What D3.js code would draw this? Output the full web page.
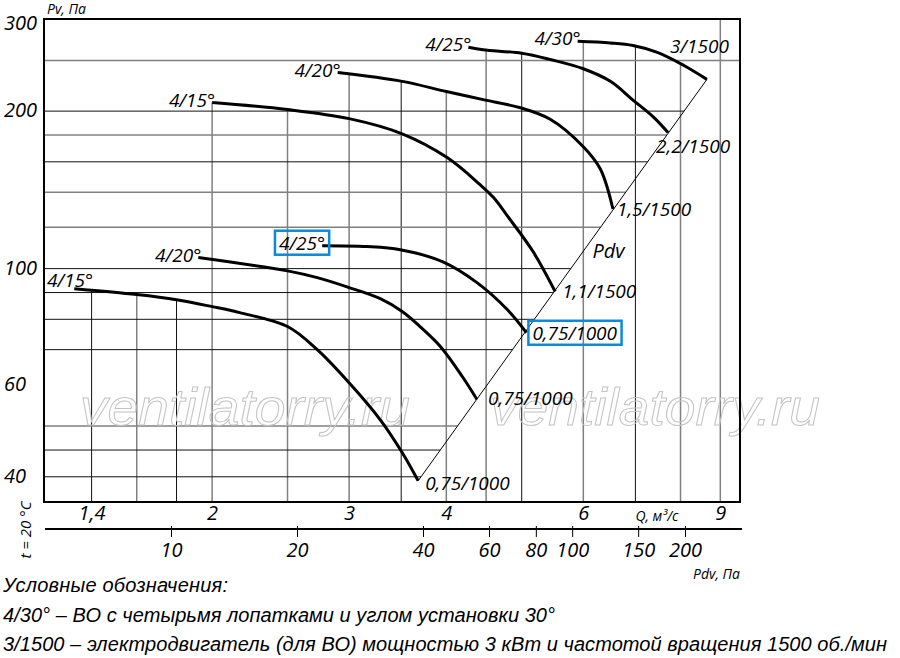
<!DOCTYPE html>
<html>
<head>
<meta charset="utf-8">
<script src="https://cdn.jsdelivr.net/npm/d3@7"></script>
<style>
  body { margin: 0; background: #fff; }
  svg text { font-family: "Open Sans", sans-serif; font-style: italic; fill: #000; }
  .legend text { font-family: "Liberation Sans", Arial, sans-serif; }
</style>
</head>
<body>
<svg id="chart" width="900" height="658"></svg>
<script>
// fan curves: lower group 1000 rpm, upper group 1500 rpm
var curveLabels = ["4/15°", "4/20°", "4/25°", "4/15°", "4/20°", "4/25°", "4/30°"];
var motorLabels = ["0,75/1000", "0,75/1000", "0,75/1000", "1,1/1500", "1,5/1500", "2,2/1500", "3/1500"];

// Q, m3/s
var curveFlow = [
  [1.33, 1.6, 1.8, 2.0, 2.17, 2.5, 2.73, 3.0, 3.29, 3.51, 3.68],
  [1.92, 2.5, 2.73, 3.0, 3.29, 3.51, 3.7, 3.93, 4.2, 4.38],
  [2.77, 3.16, 3.49, 3.96, 4.38, 4.79, 5.07],
  [2.0, 2.5, 3.0, 3.51, 4.01, 4.42, 4.6, 4.8, 5.17, 5.52],
  [2.9, 3.51, 4.0, 4.46, 4.98, 5.44, 6.0, 6.31, 6.55],
  [4.27, 4.46, 5.0, 5.44, 6.0, 6.5, 6.95, 7.38, 7.71],
  [5.9, 6.5, 6.95, 7.47, 8.06, 8.65]
];
// Pv, Pa
var curvePressure = [
  [91.5, 89.2, 87.2, 84.6, 82.4, 77.5, 70, 60.5, 51.4, 44.5, 39.3],
  [105, 99, 96.1, 92.0, 87.6, 82.8, 77.5, 71, 62, 56.2],
  [110.6, 110.2, 108.7, 103, 94, 83.5, 75.4],
  [207.7, 201.4, 193.5, 181, 163, 144.7, 136.7, 125.7, 107.8, 90.4],
  [237, 228, 218, 210.4, 203, 193, 171, 155, 130],
  [265, 262, 258, 251, 241, 228, 210, 195, 182],
  [272, 270, 267, 259, 245, 230]
];

var pressureTicks = [40, 60, 100, 200, 300];
var flowTicks = [1.4, 2, 3, 4, 6, 9];
var pdvTicks = [10, 20, 40, 60, 80, 100, 150, 200];
var flowGrid = [1.4, 1.6, 1.8, 2, 2.5, 3, 3.5, 4, 4.5, 5, 6, 7, 8, 9];
var pressureGrid = [40, 45, 50, 70, 80, 90, 100, 120, 140, 160, 180, 200, 250];

var legendLines = [
  "Условные обозначения:",
  "4/30° – ВО с четырьмя лопатками и углом установки 30°",
  "3/1500 – электродвигатель (для ВО) мощностью 3 кВт и частотой вращения 1500 об./мин"
];

// layout
var L = 44, T = 19, R = 740, B = 502;
var svg = d3.select("#chart");

var x = d3.scaleLog().domain([1.216, 9.54]).range([L, R]);
var y = d3.scaleLog().domain([35.8, 300]).range([B, T]);
var pdvScale = d3.scaleLog().domain([10, 20, 40, 200]).range([171, 297, 423, 685]);
var comma = function(v) { return String(v).replace(".", ","); };

var curves = curveLabels.map(function(name, i) {
  return {
    name: name,
    motor: motorLabels[i],
    pts: curveFlow[i].map(function(q, j) { return [q, curvePressure[i][j]]; })
  };
});

// top envelope of all curves at a given Q (log-log interpolation)
function envelope(q) {
  var best = null;
  curves.forEach(function(c) {
    var p = c.pts;
    if (q < p[0][0] || q > p[p.length - 1][0]) return;
    for (var j = 1; j < p.length; j++) {
      if (q <= p[j][0]) {
        var t = (Math.log(q) - Math.log(p[j-1][0])) / (Math.log(p[j][0]) - Math.log(p[j-1][0]));
        var v = Math.exp(Math.log(p[j-1][1]) + t * (Math.log(p[j][1]) - Math.log(p[j-1][1])));
        if (best === null || v > best) best = v;
        break;
      }
    }
  });
  return best;
}

// Pdv line joins the ends of the first and last curve
var endA = curves[0].pts[curves[0].pts.length - 1];
var endB = curves[6].pts[curves[6].pts.length - 1];
var ax = x(endA[0]), ay = y(endA[1]), bx = x(endB[0]), by = y(endB[1]);
function pdvLineX(py) { return ax + (py - ay) / (by - ay) * (bx - ax); }

// grid
var darkQ = [1.4, 1.8, 3.5, 5, 7];
var darkP = [200, 160, 100, 90, 80, 70, 45, 40];
var grid = svg.append("g");
grid.selectAll("line.v").data(flowGrid).enter().append("line")
  .attr("class", "v")
  .attr("x1", function(d) { return x(d); })
  .attr("x2", function(d) { return x(d); })
  .attr("y1", function(d) { var e = envelope(d); return e === null ? T : y(e); })
  .attr("y2", B)
  .attr("stroke", function(d) { return darkQ.indexOf(d) >= 0 ? "#111" : "#808080"; })
  .attr("stroke-width", function(d) { return darkQ.indexOf(d) >= 0 ? 1 : 1.5; });

grid.selectAll("line.h").data(pressureGrid).enter().append("line")
  .attr("class", "h")
  .attr("x1", L)
  .attr("x2", function(d) { var py = y(d); return py < by ? R : pdvLineX(py); })
  .attr("y1", function(d) { return y(d); })
  .attr("y2", function(d) { return y(d); })
  .attr("stroke", function(d) { return darkP.indexOf(d) >= 0 ? "#111" : "#808080"; })
  .attr("stroke-width", function(d) { return darkP.indexOf(d) >= 0 ? 1 : 1.5; });

// watermark
svg.selectAll("text.wm").data([80, 490]).enter().append("text")
  .attr("class", "wm")
  .attr("x", function(d) { return d; })
  .attr("y", 425)
  .attr("textLength", 330)
  .attr("lengthAdjust", "spacingAndGlyphs")
  .style("font-family", "'Liberation Sans', Arial, sans-serif")
  .style("font-size", "52px")
  .style("fill", "none")
  .style("stroke", "#c4c4c4")
  .style("stroke-width", 1)
  .text("ventilatorry.ru");

// frame
svg.append("rect")
  .attr("x", L).attr("y", T).attr("width", R - L).attr("height", B - T)
  .attr("fill", "none").attr("stroke", "#000").attr("stroke-width", 2);

// Pdv line
svg.append("line")
  .attr("x1", ax).attr("y1", ay).attr("x2", bx).attr("y2", by)
  .attr("stroke", "#000").attr("stroke-width", 1);

var frac = 0.555;
svg.append("text")
  .attr("x", ax + frac * (bx - ax) + 14)
  .attr("y", ay + frac * (by - ay))
  .style("font-size", "20px")
  .text("Pdv");

// curves
var line = d3.line()
  .x(function(d) { return x(d[0]); })
  .y(function(d) { return y(d[1]); })
  .curve(d3.curveCatmullRom.alpha(0.5));

svg.selectAll("path.curve").data(curves).enter().append("path")
  .attr("class", "curve")
  .attr("d", function(d) { return line(d.pts); })
  .attr("fill", "none")
  .attr("stroke", "#000")
  .attr("stroke-width", 3);

// blade-angle labels at curve start
var startLabels = svg.selectAll("text.start").data(curves).enter().append("text")
  .attr("class", "start")
  .style("font-size", "19px")
  .attr("y", function(d) { return y(d.pts[0][1]) + 4; })
  .text(function(d) { return d.name; });
startLabels.each(function(d) {
  var w = this.getComputedTextLength();
  var xr = x(d.pts[0][0]) + 3;
  d3.select(this).attr("x", Math.max(xr - w, L + 3));
  if (xr - w < L + 3) d3.select(this).attr("y", y(d.pts[0][1]) - 2);
});

// motor labels at curve end
var endShift = [[7, 9], [11, 5], [6, 7], [7, 6], [4, 7], [-12, 20], [-37, -26]];
var endLabels = svg.selectAll("text.end").data(curves).enter().append("text")
  .attr("class", "end")
  .style("font-size", "19px")
  .attr("x", function(d, i) { var p = d.pts[d.pts.length - 1]; return x(p[0]) + endShift[i][0]; })
  .attr("y", function(d, i) { var p = d.pts[d.pts.length - 1]; return y(p[1]) + endShift[i][1]; })
  .text(function(d) { return d.motor; });

// highlighted boxes around the 4/25° (1000 rpm) labels
[startLabels.filter(function(d, i) { return i === 2; }).node(),
 endLabels.filter(function(d, i) { return i === 2; }).node()].forEach(function(n) {
  var bb = n.getBBox();
  svg.append("rect")
    .attr("x", bb.x - 4).attr("y", bb.y + 1)
    .attr("width", bb.width + 8).attr("height", bb.height - 2)
    .attr("fill", "none").attr("stroke", "#0b8ad9").attr("stroke-width", 2.5);
});

// y labels
svg.selectAll("text.ylab").data(pressureTicks).enter().append("text")
  .attr("class", "ylab")
  .attr("x", 4)
  .attr("y", function(d) { return Math.max(y(d) + 6, 30); })
  .style("font-size", "20px")
  .text(function(d) { return d; });

svg.append("text").attr("x", 47).attr("y", 14).style("font-size", "14px").text("Pv, Па");

// Q axis
var qAxis = svg.append("g")
  .attr("transform", "translate(0," + B + ")")
  .call(d3.axisBottom(x).tickValues(flowTicks).tickSize(0).tickFormat(comma));
qAxis.select(".domain").remove();
qAxis.selectAll("text")
  .attr("y", 18).attr("dy", 0)
  .style("font-family", "'Open Sans', sans-serif")
  .style("font-style", "italic")
  .style("font-size", "20px");

svg.append("text").attr("x", x(7)).attr("y", 521).style("font-size", "14px").text("Q, м³/с");

// Pdv axis
var pAxis = svg.append("g")
  .attr("transform", "translate(0,529)")
  .call(d3.axisBottom(pdvScale).tickValues(pdvTicks).tickSize(8).tickFormat(d3.format("d")));
pAxis.select(".domain").remove();
pAxis.selectAll(".tick line").attr("y1", -3).attr("stroke-width", 1);
pAxis.selectAll("text")
  .attr("y", 28).attr("dy", 0)
  .style("font-family", "'Open Sans', sans-serif")
  .style("font-style", "italic")
  .style("font-size", "20px");
svg.append("line").attr("x1", 45).attr("x2", 742).attr("y1", 529).attr("y2", 529)
  .attr("stroke", "#000").attr("stroke-width", 2);

svg.append("text").attr("x", R).attr("y", 579).attr("text-anchor", "end")
  .style("font-size", "14px").text("Pdv, Па");

svg.append("text")
  .attr("transform", "translate(31,530) rotate(-90)")
  .attr("text-anchor", "middle")
  .style("font-size", "15px")
  .text("t = 20 °C");

// legend
var legendWidths = [225, 552, 884];
svg.append("g").attr("class", "legend")
  .selectAll("text").data(legendLines).enter().append("text")
  .attr("x", 3)
  .attr("y", function(d, i) { return 592 + i * 29.5; })
  .attr("textLength", function(d, i) { return legendWidths[i]; })
  .attr("lengthAdjust", "spacing")
  .style("font-size", "20px")
  .text(function(d) { return d; });
</script>
</body>
</html>
